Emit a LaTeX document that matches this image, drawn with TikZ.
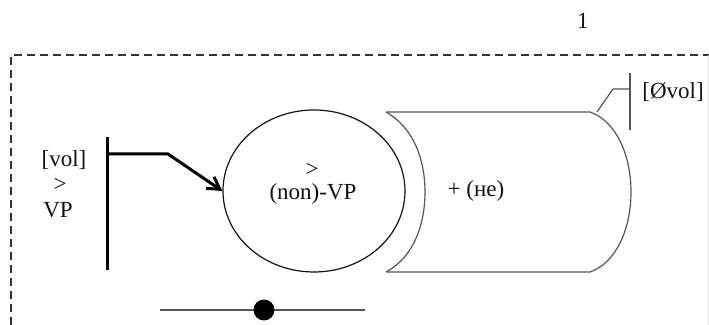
\documentclass[tikz,border=0pt]{standalone}
\usepackage{fontspec}
\setmainfont{Liberation Serif}
\usetikzlibrary{arrows.meta, shapes.geometric, positioning}
\definecolor{cink}{HTML}{111111}
\definecolor{cline}{HTML}{555555}
\definecolor{cframe}{HTML}{333333}

\begin{document}
\begin{tikzpicture}[x=0.5pt, y=-0.5pt,
    lbl/.style={inner sep=0pt, font=\fontsize{11.5}{13}\selectfont, text=cink},
    thinline/.style={draw=cline, line width=0.6pt},
    boldline/.style={draw=black, line width=1.5pt}]
    \useasboundingbox (0,0) rectangle (709,325);
    \node (num) [lbl] at (583,21) {1};
    \draw[cframe, line width=0.75pt, dash pattern=on 4pt off 2.5pt] (11,325) -- (11,55) -- (709,55);
    \draw[black!12, line width=0.5pt] (708,55) -- (708,325);
    \node (vol) [lbl] at (64,160) {[vol]};
    \node (gt) [lbl] at (60,185) {>};
    \node (vpl) [lbl] at (58,210) {VP};
    \coordinate (bartop) at (107,137);
    \coordinate (barbot) at (107,270);
    \coordinate (hook) at (168,154);
    \draw[boldline] (bartop) -- (barbot);
    \node (vp) [ellipse, thinline, draw=cink, minimum width=91pt, minimum height=81pt, inner sep=0pt] at (314,191) {};
    \node (gtin) [lbl] at (312,170) {>};
    \node (nonvp) [lbl] at (313,194) {(non)-VP};
    \draw[boldline, -{Straight Barb[length=6pt, width=7pt, line width=1.5pt]}] (107,154) -- (hook) -- (vp.west);
    \coordinate (cl1) at (386,112);
    \coordinate (cl2) at (386,272);
    \coordinate (cr1) at (590,112);
    \coordinate (cr2) at (590,272);
    \draw[thinline] (cl1) .. controls (414,128) and (425,160) .. (425,192) .. controls (425,224) and (414,257) .. (cl2);
    \draw[thinline] (cl1) -- (cr1) .. controls (618,122) and (631,158) .. (631,192) .. controls (631,226) and (618,262) .. (cr2) -- (cl2);
    \node (ne) [lbl] at (476,191) {+ (не)};
    \coordinate (knee) at (613,89);
    \coordinate (tick1) at (630,73);
    \coordinate (tick2) at (630,130);
    \draw[thinline] (tick1) -- (tick2);
    \draw[thinline] (597,112) -- (knee) -- (630,89);
    \node (ovol) [lbl, anchor=west] at (642,92) {[Øvol]};
    \coordinate (axl) at (160,310);
    \coordinate (axr) at (365,310);
    \draw[thinline] (axl) -- (axr);
    \node (dot) [circle, fill=black, minimum size=10.5pt, inner sep=0pt] at (264,310) {};
\end{tikzpicture}
\end{document}
